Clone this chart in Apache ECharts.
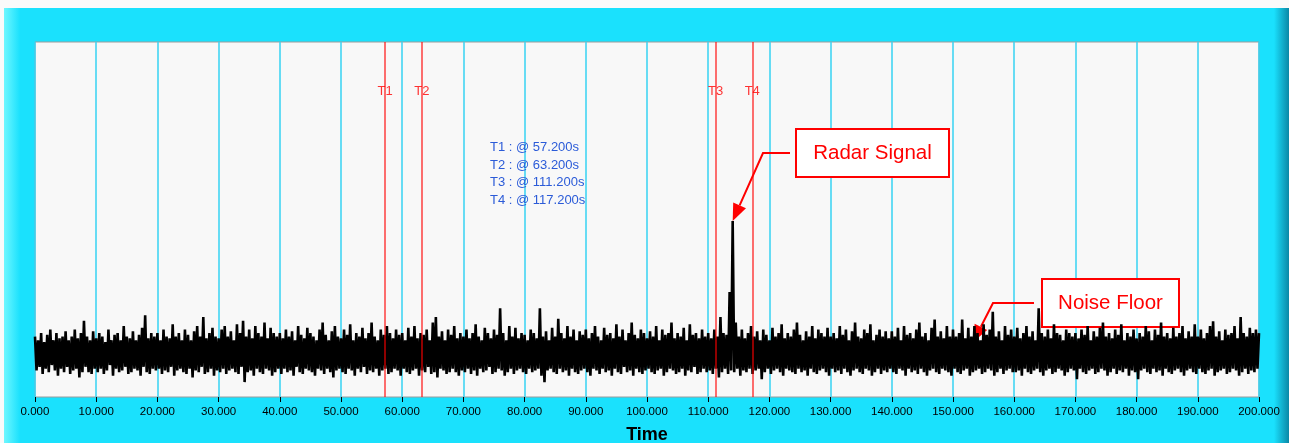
<!DOCTYPE html>
<html>
<head>
<meta charset="utf-8">
<script src="https://cdn.jsdelivr.net/npm/echarts@6/dist/echarts.min.js"></script>
<style>
  html, body { margin: 0; padding: 0; background: #fff; }
  #main { width: 1289px; height: 443px; }
</style>
</head>
<body>
<div id="main"></div>
<script>
// sample spacing of the noise trace (s)
const sampleStep = 0.5

// upper peaks of the trace, one per sample (t = 0 .. 200 s)
const noiseHigh = [
  17, 16, 18, 15.5, 17.5, 19, 16, 18, 16.5, 17, 18.5, 16, 17, 19, 16.5, 18, 21.5, 17, 16, 18.5,
  16.5, 18, 17, 15.5, 19, 16, 17.5, 18, 16, 20, 17, 16.5, 18.5, 16, 17.5, 19.5, 23, 16.5, 18, 17,
  18, 16, 19, 17, 16.5, 20.5, 17, 18, 16, 19, 17.5, 16, 18.5, 20, 17, 22.5, 16.5, 18, 19.5, 17,
  16.5, 19, 20, 17, 18.5, 16, 20.5, 18, 21.5, 17, 19, 16.5, 20, 18, 17, 21, 16.5, 19.5, 18, 17,
  18, 16.5, 19, 17, 18.5, 16, 20, 17.5, 16.5, 19.5, 18, 17, 16, 19, 21, 17.5, 16, 18.5, 20, 17,
  16.5, 19, 17.5, 20.5, 16, 18, 17, 19.5, 16.5, 18, 21, 17, 16, 19, 17.5, 20, 18, 16.5, 19, 17.5,
  18, 16, 19.5, 17, 20, 16.5, 18, 17.5, 19, 16, 21, 22.5, 17, 18.5, 16, 19, 17.5, 20, 16.5, 18,
  17, 19, 16.5, 18, 20.5, 17, 16, 19.5, 18, 16.5, 19, 17.5, 25, 18, 16, 20, 17, 19.5, 16.5, 18,
  17.5, 16, 19, 18, 16.5, 25, 17, 18.5, 16, 19.5, 17, 22, 18, 16.5, 20, 17, 19, 16, 18.5, 17.5,
  19, 16.5, 18, 20, 17, 16, 19.5, 17.5, 18, 16.5, 20.5, 17, 19, 16, 18, 21, 17.5, 16.5, 19, 18,
  16.5, 18.5, 17, 20, 16, 19, 17.5, 18, 21, 16.5, 18, 17, 19.5, 16, 20.5, 17.5, 18, 16.5, 19, 17,
  18, 16.5, 19, 17, 22.5, 18, 17.5, 29.6, 49.6, 21, 17, 19, 16.5, 18, 20, 17, 18.5, 16, 19, 17.5,
  16, 19.5, 17, 18, 20.5, 16.5, 18, 17, 19, 21, 17.5, 16, 18.5, 17, 20, 16.5, 19, 18, 17, 19.5,
  17, 18, 16.5, 20, 17.5, 19, 16, 18.5, 21, 17, 16.5, 19, 18, 20.5, 16, 17.5, 19, 17, 18.5, 16.5,
  18.5, 17, 19.5, 16, 20, 17.5, 18, 16.5, 19, 21, 17, 18, 16, 19.5, 21.8, 17, 18.5, 16.5, 20, 17,
  19, 17, 18, 21.8, 16.5, 19.5, 17, 20, 18, 16, 20.5, 17.5, 19, 24, 17, 18.5, 16, 20, 17.5, 19,
  17, 19.5, 16.5, 18, 20, 17, 18.5, 16, 25, 18, 17, 19, 16.5, 20.5, 18, 17.5, 16, 19, 18, 17,
  18, 16.5, 19, 17.5, 20, 16, 18.5, 17, 19.5, 21, 17, 18, 16.5, 19, 17.5, 20.5, 16, 18, 17, 19,
  16.5, 18, 17, 20, 18.5, 16, 19, 17.5, 21, 17, 18, 16.5, 19.5, 17, 18, 20, 16.5, 18.5, 17, 20.5,
  17, 19, 16.5, 18, 20, 21.3, 17, 18.5, 16, 19, 17.5, 18, 20, 16.5, 22.5, 18, 17, 19.5, 18, 19,
  18
]

// lower troughs of the trace, half a sample after each peak
const noiseLow = [
  7.5, 8.5, 6.5, 8, 7, 9, 7.5, 6, 8, 7, 8.5, 6.5, 7.5, 8, 5.5, 7, 8.5, 7, 6.5, 8,
  7, 8, 6.5, 7.5, 9, 6, 8, 7, 7.5, 8.5, 6.5, 7, 8, 7.5, 6, 8.5, 7, 6.5, 8, 7.5,
  8, 6.5, 7.5, 7, 8.5, 6, 7.5, 8, 7, 6.5, 8, 5.5, 7.5, 7, 8.5, 6.5, 7, 8, 6, 7.5,
  7, 8, 6.5, 7.5, 8, 7, 6.5, 8.5, 4.2, 7, 7.5, 6, 8, 7, 6.5, 8, 7.5, 6, 7, 8,
  6.5, 8, 7, 7.5, 6, 8.5, 7, 6.5, 8, 7.5, 7, 6, 8, 7.5, 6.5, 8, 7, 5.5, 7.5, 8,
  7, 6.5, 8, 7.5, 6, 8, 7, 8.5, 6.5, 7.5, 7, 8, 6, 7.5, 8, 6.5, 7, 8, 7.5, 6,
  8, 7, 6.5, 7.5, 8, 6, 7.5, 7, 8.5, 6.5, 7, 5.5, 8, 7.5, 6.5, 7, 8, 7, 6, 7.5,
  7, 8, 6.5, 7.5, 6, 8, 7, 7.5, 8.5, 6.5, 7, 8, 7.5, 6, 7, 8, 6.5, 7.5, 8, 7,
  6.5, 8, 7, 7.5, 8, 6, 4.2, 7.5, 8, 7, 6.5, 8, 7, 7.5, 6, 8, 7, 6.5, 7.5, 8,
  7, 6, 8, 7.5, 6.5, 8, 7, 7.5, 6, 8, 7, 6.5, 8.5, 7, 7.5, 6, 8, 7, 6.5, 7.5,
  8, 7, 6.5, 7.5, 8, 6, 7, 8, 7.5, 6.5, 7, 8, 6, 7.5, 7, 8.5, 6.5, 7, 8, 7,
  7.5, 6.5, 8, 5.5, 7, 8, 6.5, 7.5, 7, 8, 6, 7.5, 7, 8, 6.5, 7.5, 8, 5, 7, 8,
  6.5, 7.5, 8, 7, 6, 8, 7.5, 7, 6.5, 8, 7, 7.5, 6, 8, 7, 6.5, 7.5, 8, 7, 6,
  8, 7, 7.5, 6.5, 8, 7, 6, 7.5, 8, 7, 6.5, 8, 7.5, 6, 7, 8, 6.5, 7.5, 7, 8,
  7, 6.5, 8, 7.5, 6, 8, 7, 7.5, 6.5, 8, 7, 6, 7.5, 8, 7, 6.5, 8, 7.5, 7, 6,
  8, 7, 6.5, 7.5, 8, 6, 7, 7.5, 8, 6.5, 7, 8, 7.5, 6, 7, 8, 6.5, 7.5, 8, 7,
  7, 7.5, 6, 8, 7, 6.5, 7.5, 8, 7, 6, 7.5, 8, 6.5, 7, 8, 7.5, 6, 7, 8, 7.5,
  5, 8, 7, 6.5, 7.5, 8, 6.5, 7, 8, 7.5, 6, 7, 8, 6.5, 7.5, 7, 8, 6, 7.5, 7,
  5, 7.5, 8, 7, 6.5, 8, 7, 7.5, 6, 8, 7, 6.5, 7.5, 8, 7, 6, 7.5, 8, 7, 6.5,
  8, 7, 6.5, 7.5, 8, 6, 7, 7.5, 8, 6.5, 7, 8, 7.5, 6, 7, 8, 6.5, 7.5, 7, 8
]

// time cursors
const cursorNames = ['T1', 'T2', 'T3', 'T4']
const cursorTimes = [57.2, 63.2, 111.2, 117.2]
const cursorLabelLevel = 86

// annotations: text and the point of the trace they point at
const calloutTexts = ['Radar Signal', 'Noise Floor']
const calloutTargets = [[114, 49.6], [153.3, 15.5]]

const FONT = '"Liberation Sans", Arial, sans-serif'

// zigzag peak / trough so the dense trace fills in like the scope view
const waveData = []
noiseHigh.forEach((v, i) => {
  waveData.push([i * sampleStep, v])
  if (i < noiseLow.length) waveData.push([i * sampleStep + sampleStep / 2, noiseLow[i]])
})

const myChart = echarts.init(document.getElementById('main'), null, { renderer: 'canvas' })

myChart.setOption({
  backgroundColor: '#1ae1fd',
  animation: false,
  grid: {
    left: 35,
    right: 30,
    top: 42,
    bottom: 46,
    containLabel: false,
    outerBoundsMode: 'none',
    show: true,
    backgroundColor: '#f8f8f8',
    borderColor: '#9c9c9c',
    borderWidth: 1
  },
  xAxis: {
    type: 'value',
    min: 0,
    max: 200,
    interval: 10,
    name: 'Time',
    nameLocation: 'middle',
    nameGap: 29,
    nameTextStyle: { fontFamily: FONT, fontSize: 18, fontWeight: 'bold', color: '#000' },
    axisLine: { show: false },
    axisTick: { show: true, length: 5, lineStyle: { color: '#000' } },
    axisLabel: {
      margin: 9,
      fontFamily: FONT,
      fontSize: 11.5,
      color: '#000',
      formatter: (v) => v.toFixed(3)
    },
    splitLine: { show: true, lineStyle: { color: '#36d3f3', width: 1.5 } }
  },
  yAxis: {
    type: 'value',
    min: 0,
    max: 100,
    show: false,
    splitLine: { show: false }
  },
  series: [
    {
      name: 'signal',
      type: 'line',
      data: waveData,
      showSymbol: false,
      symbol: 'none',
      lineStyle: { color: '#000', width: 2.6, join: 'bevel' },
      z: 2
    },
    {
      name: 'cursors',
      type: 'scatter',
      symbolSize: 1,
      itemStyle: { color: 'rgba(0,0,0,0)' },
      data: cursorTimes.map((t) => [t, cursorLabelLevel]),
      label: {
        show: true,
        position: 'inside',
        formatter: (p) => cursorNames[p.dataIndex],
        color: '#ff0000',
        fontFamily: FONT,
        fontSize: 13
      },
      markLine: {
        silent: true,
        symbol: ['none', 'none'],
        label: { show: false },
        lineStyle: { color: '#ff0000', width: 1.5, type: 'solid', opacity: 0.75 },
        data: cursorTimes.map((t) => ({ xAxis: t }))
      },
      z: 3
    }
  ]
})

// frame pieces, cursor readout and callouts
function arrowHead(tip, from, len, half) {
  const dx = tip[0] - from[0]
  const dy = tip[1] - from[1]
  const d = Math.hypot(dx, dy)
  const ux = dx / d
  const uy = dy / d
  const base = [tip[0] - ux * len, tip[1] - uy * len]
  return {
    base: base,
    points: [tip, [base[0] - uy * half, base[1] + ux * half], [base[0] + uy * half, base[1] - ux * half]]
  }
}

const calloutBoxes = [
  { x: 796, y: 129, w: 153, h: 48, start: [790, 153], elbow: [763, 153] },
  { x: 1042, y: 279, w: 137, h: 48, start: [1034, 303], elbow: [993, 303] }
]

const graphics = [
  { type: 'rect', shape: { x: 0, y: 0, width: 1289, height: 8 }, style: { fill: '#fafafa' }, silent: true },
  { type: 'rect', shape: { x: 0, y: 8, width: 4, height: 435 }, style: { fill: '#fafafa' }, silent: true },
  {
    type: 'rect', shape: { x: 4, y: 8, width: 16, height: 435 }, silent: true,
    style: { fill: new echarts.graphic.LinearGradient(0, 0, 1, 0, [{ offset: 0, color: '#6ff7ff' }, { offset: 1, color: '#1ae1fd' }]) }
  },
  {
    type: 'rect', shape: { x: 1274, y: 8, width: 15, height: 435 }, silent: true,
    style: { fill: new echarts.graphic.LinearGradient(0, 0, 1, 0, [{ offset: 0, color: '#1ae1fd' }, { offset: 1, color: '#0a88a6' }]) }
  },
  {
    type: 'text', left: 490, top: 139, silent: true,
    style: {
      text: cursorNames.map((n, i) => n + ' : @ ' + cursorTimes[i].toFixed(3) + 's').join('\n'),
      fill: '#2b5bd8',
      font: '13px ' + FONT,
      lineHeight: 17.5
    }
  }
]

calloutTexts.forEach((txt, i) => {
  const box = calloutBoxes[i]
  const tip = myChart.convertToPixel({ gridIndex: 0 }, calloutTargets[i])
  const head = arrowHead(tip, box.elbow, 17, 7)
  graphics.push(
    { type: 'polyline', silent: true, shape: { points: [box.start, box.elbow, head.base] }, style: { stroke: '#ff0000', lineWidth: 2, fill: null } },
    { type: 'polygon', silent: true, shape: { points: head.points }, style: { fill: '#ff0000' } },
    { type: 'rect', silent: true, shape: { x: box.x, y: box.y, width: box.w, height: box.h }, style: { fill: '#fff', stroke: '#ff0000', lineWidth: 2 } },
    {
      type: 'text', silent: true, x: box.x + box.w / 2, y: box.y + box.h / 2,
      style: { text: txt, fill: '#ff0000', font: '20.5px ' + FONT, textAlign: 'center', textVerticalAlign: 'middle' }
    }
  )
})

myChart.setOption({ graphic: graphics })
</script>
</body>
</html>
